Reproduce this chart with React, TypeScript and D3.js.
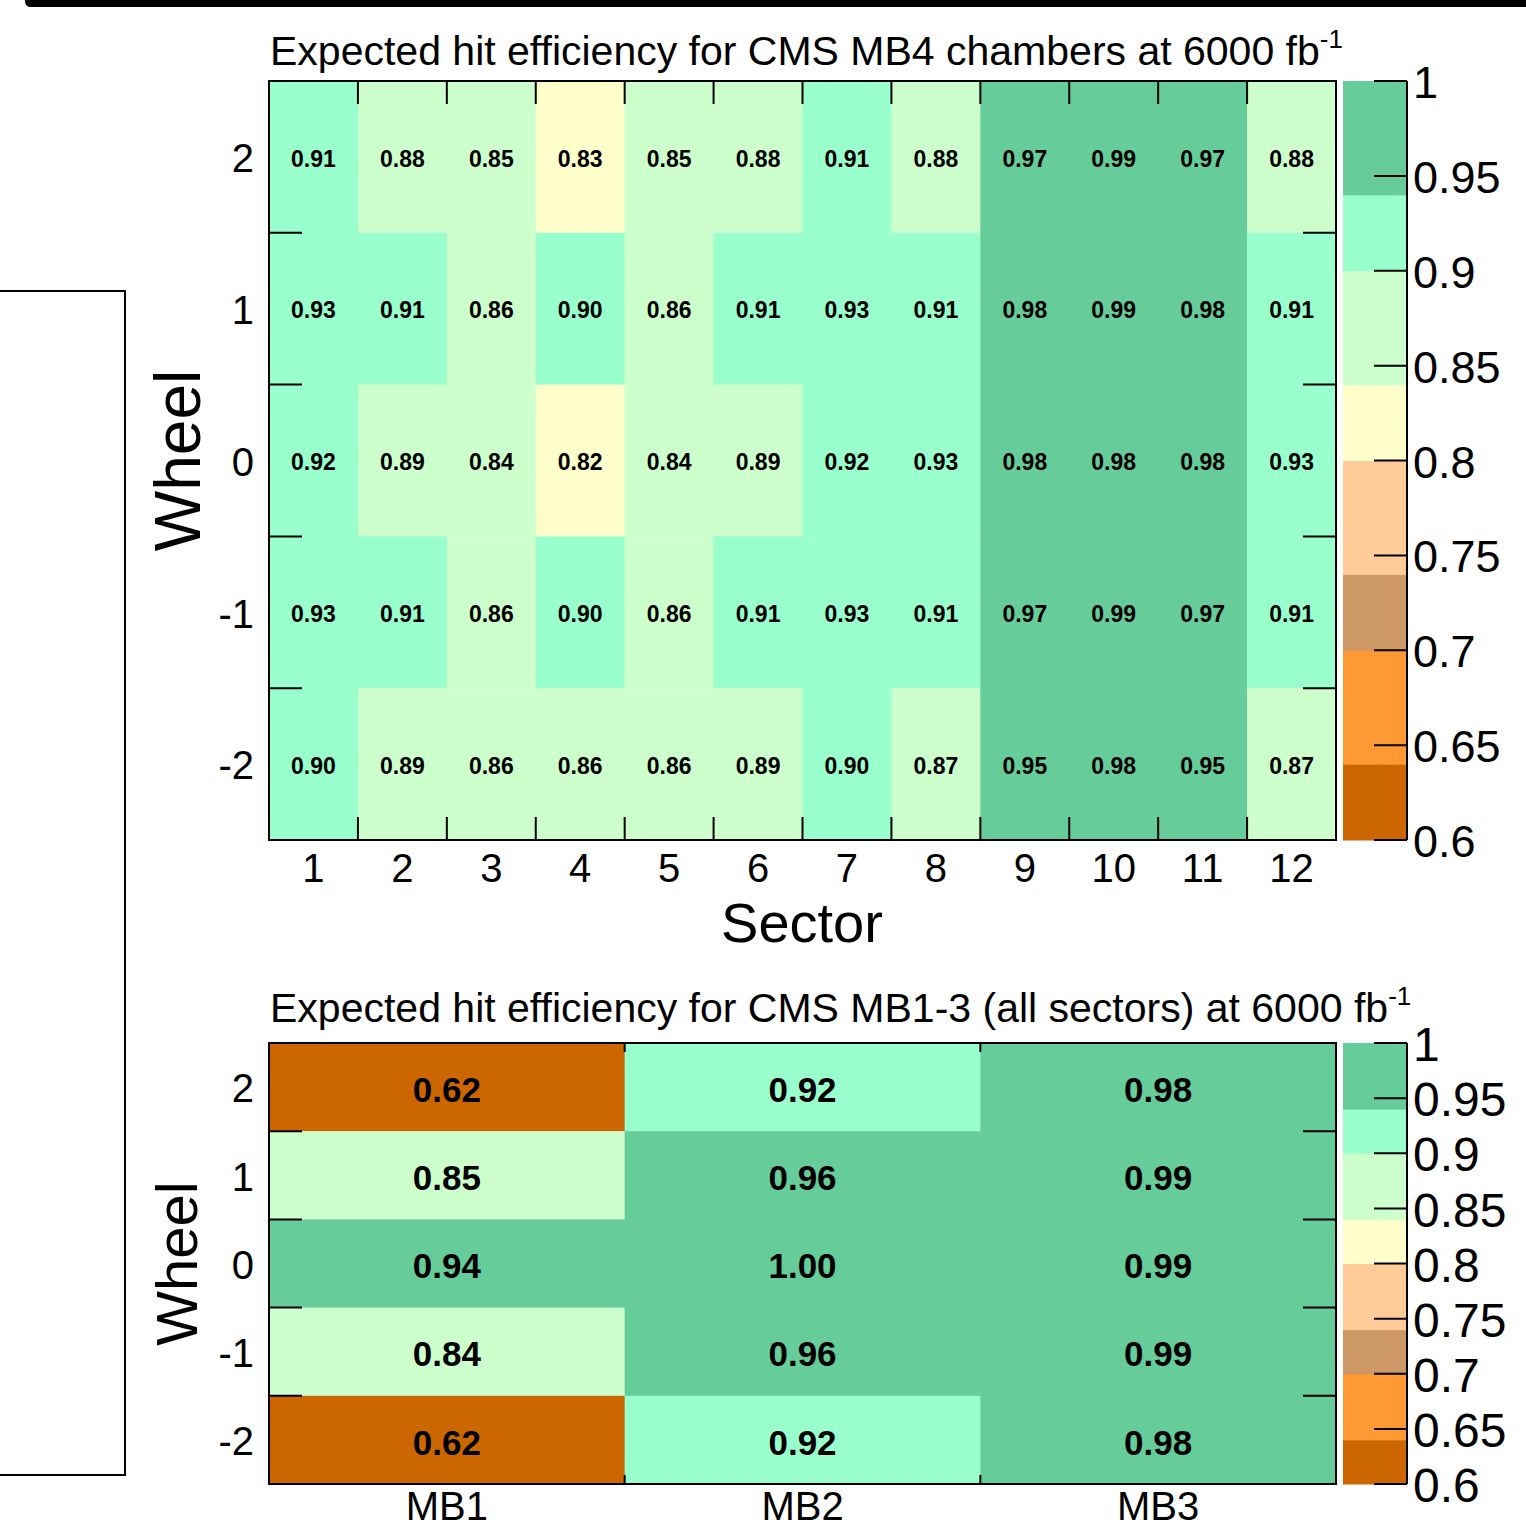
import * as d3 from "d3";

// Hit efficiency maps for the CMS DT chambers (MB4 per sector, MB1-3 averaged).

const FONT = "'Liberation Sans', Arial, Helvetica, sans-serif";

const wheels = ["2", "1", "0", "-1", "-2"];
const sectors = ["1", "2", "3", "4", "5", "6", "7", "8", "9", "10", "11", "12"];
const stations = ["MB1", "MB2", "MB3"];

// MB4 efficiency, one row per wheel (2 .. -2), one value per sector
const mb4Wheel2 = [0.91, 0.88, 0.85, 0.83, 0.85, 0.88, 0.91, 0.88, 0.97, 0.99, 0.97, 0.88];
const mb4Wheel1 = [0.93, 0.91, 0.86, 0.9, 0.86, 0.91, 0.93, 0.91, 0.98, 0.99, 0.98, 0.91];
const mb4Wheel0 = [0.92, 0.89, 0.84, 0.82, 0.84, 0.89, 0.92, 0.93, 0.98, 0.98, 0.98, 0.93];
const mb4WheelM1 = [0.93, 0.91, 0.86, 0.9, 0.86, 0.91, 0.93, 0.91, 0.97, 0.99, 0.97, 0.91];
const mb4WheelM2 = [0.9, 0.89, 0.86, 0.86, 0.86, 0.89, 0.9, 0.87, 0.95, 0.98, 0.95, 0.87];
const mb4Rows = [mb4Wheel2, mb4Wheel1, mb4Wheel0, mb4WheelM1, mb4WheelM2];

// MB1-3 efficiency, one list per station, wheels 2 .. -2
const mb1 = [0.62, 0.85, 0.94, 0.84, 0.62];
const mb2 = [0.92, 0.96, 1.0, 0.96, 0.92];
const mb3 = [0.98, 0.99, 0.99, 0.99, 0.98];
const stationCols = [mb1, mb2, mb3];

// palette levels (ROOT contour style)
const levels = [0.6, 0.64, 0.7, 0.74, 0.8, 0.84, 0.9, 0.94, 1.0];
const palette = ["#cc6600", "#ff9933", "#cc9966", "#ffcc99", "#ffffcc", "#ccffcc", "#99ffcc", "#66cc99"];
const zTicks = [0.6, 0.65, 0.7, 0.75, 0.8, 0.85, 0.9, 0.95, 1.0];

const color = d3.scaleThreshold<number, string>().domain(levels.slice(1, -1)).range(palette);

type Cell = { col: string; row: string; v: number };

function Heatmap({
  cells,
  cols,
  top,
  bottom,
  cellFont,
  ylabFont,
  xTickLen,
  zFont,
  title,
  titleY,
  xLabels,
  wheelFont,
  wheelX,
}: {
  cells: Cell[];
  cols: string[];
  top: number;
  bottom: number;
  cellFont: number;
  ylabFont: number;
  xTickLen: number;
  zFont: number;
  title: string;
  titleY: number;
  xLabels: { y: number; size: number };
  wheelFont: number;
  wheelX: number;
}) {
  const left = 269;
  const right = 1336;
  const x = d3.scaleBand().domain(cols).range([left, right]);
  const y = d3.scaleBand().domain(wheels).range([top, bottom]);
  const z = d3.scaleLinear().domain([0.6, 1]).range([bottom, top]);
  const zl = 1343;
  const zr = 1407;
  const innerCols = cols.slice(1).map((c) => x(c)!);
  const innerRows = wheels.slice(1).map((w) => y(w)!);

  return (
    <g fontFamily={FONT}>
      <text x={270} y={titleY} fontSize={41}>
        {title}
        <tspan fontSize={26} dy={-17}>-1</tspan>
      </text>
      {cells.map((c, i) => (
        <rect
          key={i}
          x={x(c.col)}
          y={y(c.row)}
          width={x.bandwidth() + 0.5}
          height={y.bandwidth() + 0.5}
          fill={color(c.v)}
        />
      ))}
      {cells.map((c, i) => (
        <text
          key={"t" + i}
          x={x(c.col)! + x.bandwidth() / 2}
          y={y(c.row)! + y.bandwidth() / 2}
          dy="0.42em"
          textAnchor="middle"
          fontWeight="bold"
          fontSize={cellFont}
        >
          {c.v.toFixed(2)}
        </text>
      ))}
      <g stroke="#000" strokeWidth={2}>
        {innerRows.map((yy, i) => (
          <g key={i}>
            <line x1={left} x2={left + 33} y1={yy} y2={yy} />
            <line x1={right - 33} x2={right} y1={yy} y2={yy} />
          </g>
        ))}
        {innerCols.map((xx, i) => (
          <g key={i}>
            <line x1={xx} x2={xx} y1={top} y2={top + xTickLen} />
            <line x1={xx} x2={xx} y1={bottom - xTickLen} y2={bottom} />
          </g>
        ))}
      </g>
      <rect x={left} y={top} width={right - left} height={bottom - top} fill="none" stroke="#000" strokeWidth={2} />
      {wheels.map((w) => (
        <text key={w} x={254} y={y(w)! + y.bandwidth() / 2} dy="0.38em" textAnchor="end" fontSize={ylabFont}>
          {w}
        </text>
      ))}
      {cols.map((c) => (
        <text key={c} x={x(c)! + x.bandwidth() / 2} y={xLabels.y} textAnchor="middle" fontSize={xLabels.size}>
          {c}
        </text>
      ))}
      <text transform={`translate(${wheelX},${(top + bottom) / 2}) rotate(-90)`} textAnchor="middle" fontSize={wheelFont}>
        Wheel
      </text>
      {/* colour scale */}
      {palette.map((p, i) => (
        <rect key={p} x={zl} width={zr - zl} y={z(levels[i + 1])} height={z(levels[i]) - z(levels[i + 1]) + 0.5} fill={p} />
      ))}
      <line x1={zr} x2={zr} y1={top} y2={bottom} stroke="#000" strokeWidth={2} />
      {zTicks.map((t) => (
        <g key={t}>
          <line x1={zr - 33} x2={zr} y1={z(t)} y2={z(t)} stroke="#000" strokeWidth={2} />
          <text x={1413} y={z(t)} dy="0.38em" fontSize={zFont}>
            {String(+t.toFixed(2))}
          </text>
        </g>
      ))}
    </g>
  );
}

export default function App() {
  const topCells: Cell[] = [];
  mb4Rows.forEach((row, r) => row.forEach((v, c) => topCells.push({ col: sectors[c], row: wheels[r], v })));
  const botCells: Cell[] = [];
  stationCols.forEach((col, c) => col.forEach((v, r) => botCells.push({ col: stations[c], row: wheels[r], v })));

  return (
    <svg width={1526} height={1530} style={{ position: "absolute", left: 0, top: 0, background: "#fff" }}>
      <rect width={1526} height={1530} fill="#fff" />
      <path d="M25,-5 H1530 V7 H31 Q25,7 25,1 Z" fill="#000" />
      <rect x={-10} y={291} width={135} height={1184} fill="none" stroke="#000" strokeWidth={2} />
      <Heatmap
        cells={topCells}
        cols={sectors}
        top={81}
        bottom={840}
        cellFont={23}
        ylabFont={40}
        xTickLen={23}
        zFont={45}
        title="Expected hit efficiency for CMS MB4 chambers at 6000 fb"
        titleY={65}
        xLabels={{ y: 882, size: 40 }}
        wheelFont={64}
        wheelX={200}
      />
      <text x={802} y={942} textAnchor="middle" fontSize={56} fontFamily={FONT}>
        Sector
      </text>
      <Heatmap
        cells={botCells}
        cols={stations}
        top={1043}
        bottom={1484}
        cellFont={35}
        ylabFont={40}
        xTickLen={9}
        zFont={48}
        title="Expected hit efficiency for CMS MB1-3 (all sectors) at 6000 fb"
        titleY={1022}
        xLabels={{ y: 1520, size: 40 }}
        wheelFont={58}
        wheelX={197}
      />
    </svg>
  );
}
